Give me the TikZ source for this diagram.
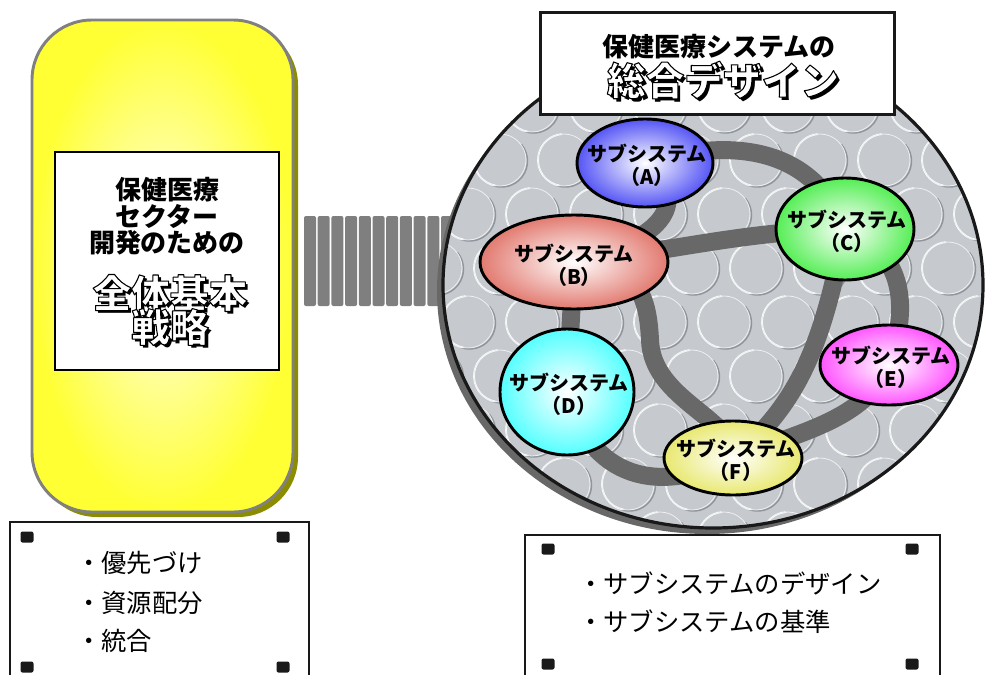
\documentclass[tikz,border=0pt]{standalone}
\usepackage{fontspec}
\usetikzlibrary{shapes.geometric}
\newfontfamily\jp{Noto Sans CJK JP}
\definecolor{bandgray}{HTML}{686868}
\definecolor{bubbase}{HTML}{C6CACE}
\definecolor{bubdark}{HTML}{8F959B}
\definecolor{barc}{HTML}{7F7F7F}
\definecolor{olivesh}{HTML}{8C8C00}
\definecolor{yel}{HTML}{FFFF33}
\definecolor{borderg}{HTML}{808080}
\definecolor{cA}{HTML}{5555F5}
\definecolor{cB}{HTML}{E27A70}
\definecolor{cC}{HTML}{55EE55}
\definecolor{cD}{HTML}{55FFFF}
\definecolor{cE}{HTML}{FF55FF}
\definecolor{cF}{HTML}{E8E870}
% white letters with a black outline (PDF text render mode 2)
\newcommand\wtxt[1]{\textcolor{white}{\special{pdf:literal direct 2 Tr 0.8 w 1 j 0 G}#1\special{pdf:literal direct 0 Tr}}}
% black shadow letters
\newcommand\btxt[1]{#1}
\pgfdeclarelayer{back}
\pgfdeclarelayer{mid}
\pgfsetlayers{back,mid,main}
\tikzset{
  sub/.style={ellipse, draw=black, line width=2.2pt, inner sep=0pt, shade, shading=radial, inner color=white},
  subtxt/.style={font=\jp\bfseries\fontsize{15}{17}\selectfont, align=center, inner sep=0pt},
  band/.style={bandgray, line width=13.5pt, line cap=round},
  boldjp/.style={font=\jp\bfseries\fontsize{19.5}{22}\selectfont, inner sep=0pt},
  bigjp/.style={font=\jp\bfseries\fontsize{29}{32}\selectfont, inner sep=0pt},
  listjp/.style={font=\jp\fontsize{19}{22}\selectfont, inner sep=0pt, anchor=west},
  corner/.style={fill=black!90, rounded corners=1.5pt}
}
\begin{document}
\begin{tikzpicture}[x=0.75pt,y=-0.75pt]
\useasboundingbox (0,0) rectangle (986,675);
\begin{pgfonlayer}{back}
% ---------- left yellow panel
\fill[olivesh, rounded corners=45pt] (37,25) rectangle (298,517);
\shade[rounded corners=45pt, inner color=yel!10!white, outer color=yel] (32,20) rectangle (293,512);
\draw[borderg, line width=2.2pt, rounded corners=45pt] (32,20) rectangle (293,512);
% ---------- bars
\foreach \k in {0,...,10}{
  \fill[barc, rounded corners=1.5pt] (304+\k*13.7,216) rectangle (316+\k*13.7,306);
}
% ---------- big circle
\fill[bandgray] (707,291) ellipse [x radius=270, y radius=243];
\begin{scope}
\clip (713,285) ellipse [x radius=270, y radius=243];
\fill[bubbase] (713,285) ellipse [x radius=270, y radius=243];
\foreach \j in {0,...,9}{
  \foreach \i in {0,...,9}{
    \pgfmathsetmacro\bx{436+\i*64+mod(\j,2)*32}
    \pgfmathsetmacro\by{52+\j*54}
    \draw[bubdark, line width=1.1pt] (\bx+1.5,\by+1) ++(-40:26) arc[start angle=-40, end angle=110, radius=26];
    \draw[white, line width=1.3pt] (\bx,\by) ++(100:26) arc[start angle=100, end angle=265, radius=26];
    \draw[white!70!bubbase, line width=0.6pt] (\bx,\by) circle [radius=26];
  }
}
\end{scope}
\draw[black!90, line width=2.4pt] (713,285) ellipse [x radius=270, y radius=243];
\end{pgfonlayer}
% ---------- inner box of left panel
\node[draw=black, line width=2pt, fill=white, minimum width=168pt, minimum height=163.5pt] (inbox) at (167,261) {};
\node[boldjp] (l1) at (167,190) {保健医療};
\node[boldjp] (l2) at (167,216) {セクター};
\node[boldjp] (l3) at (167,243) {開発のための};
\node[bigjp] (l4s) at (173,296) {\btxt{全体基本}};
\node[bigjp] (l4) at (170,293) {\wtxt{全体基本}};
\node[bigjp] (l5s) at (173,330) {\btxt{戦略}};
\node[bigjp] (l5) at (170,327) {\wtxt{戦略}};
% ---------- title box
\node[draw=black!90, line width=2.2pt, fill=white, minimum width=266pt, minimum height=77pt] (title) at (717.5,63.5) {};
\node[boldjp] (t1) at (719,47) {保健医療システムの};
\node[bigjp] (t2s) at (726,83) {\btxt{総合デザイン}};
\node[bigjp] (t2) at (723,80) {\wtxt{総合デザイン}};
% ---------- subsystem ellipses
\node[sub, outer color=cA, minimum width=102pt, minimum height=66pt] (A) at (645,163) {};
\node[sub, outer color=cB, minimum width=141pt, minimum height=70.5pt] (B) at (574,262) {};
\node[sub, outer color=cC, minimum width=103.5pt, minimum height=76.5pt] (C) at (845,229) {};
\node[sub, outer color=cD, minimum width=100.5pt, minimum height=94.5pt] (D) at (567,392) {};
\node[sub, outer color=cE, minimum width=103.5pt, minimum height=60pt] (E) at (889,365) {};
\node[sub, outer color=cF, minimum width=103.5pt, minimum height=55.5pt] (F) at (733,458) {};
\node[subtxt] (At) at (647,165) {サブシステム\\（A）};
\node[subtxt] (Bt) at (574,265) {サブシステム\\（B）};
\node[subtxt] (Ct) at (847,231) {サブシステム\\（C）};
\node[subtxt] (Dt) at (569,394) {サブシステム\\（D）};
\node[subtxt] (Et) at (891,367) {サブシステム\\（E）};
\node[subtxt] (Ft) at (736,460) {サブシステム\\（F）};
% ---------- bands (behind the ellipses)
\begin{pgfonlayer}{mid}
\draw[band] (A.center) .. controls (720,140) and (810,140) .. (C.center);
\draw[band] (A.center) .. controls (690,200) and (668,238) .. (B.center);
\draw[band] (B.center) .. controls (680,250) and (740,232) .. (C.center);
\draw[band] (B.center) .. controls (640,262) and (648,300) .. (650,340) .. controls (652,400) and (735,418) .. (F.center);
\draw[band] (C.center) .. controls (825,330) and (805,400) .. (F.center);
\draw[band] (C.center) .. controls (900,250) and (912,300) .. (E.center);
\draw[band] (E.center) .. controls (865,420) and (800,432) .. (F.center);
\draw[band] (B.center) -- (D.center);
\draw[band] (D.center) .. controls (590,480) and (660,495) .. (F.center);
\end{pgfonlayer}
% ---------- bottom left box
\node[draw=black!90, line width=1.6pt, fill=white, minimum width=224.25pt, minimum height=126pt] (lbox) at (159.5,606) {};
\foreach \cx/\cy in {27/537, 283/537, 27/667, 283/667}{
  \fill[corner] (\cx-6.5,\cy-5.5) rectangle (\cx+6.5,\cy+5.5);
}
\node[listjp] (b1) at (76,563) {・優先づけ};
\node[listjp] (b2) at (76,603) {・資源配分};
\node[listjp] (b3) at (76,641) {・統合};
% ---------- bottom right box
\node[draw=black!90, line width=1.6pt, fill=white, minimum width=311.25pt, minimum height=116.25pt] (rbox) at (732.5,612.5) {};
\foreach \cx/\cy in {548/549, 912/549, 548/664, 912/664}{
  \fill[corner] (\cx-6.5,\cy-5.5) rectangle (\cx+6.5,\cy+5.5);
}
\node[listjp] (r1) at (578,583) {・サブシステムのデザイン};
\node[listjp] (r2) at (578,622) {・サブシステムの基準};
\end{tikzpicture}
\end{document}
